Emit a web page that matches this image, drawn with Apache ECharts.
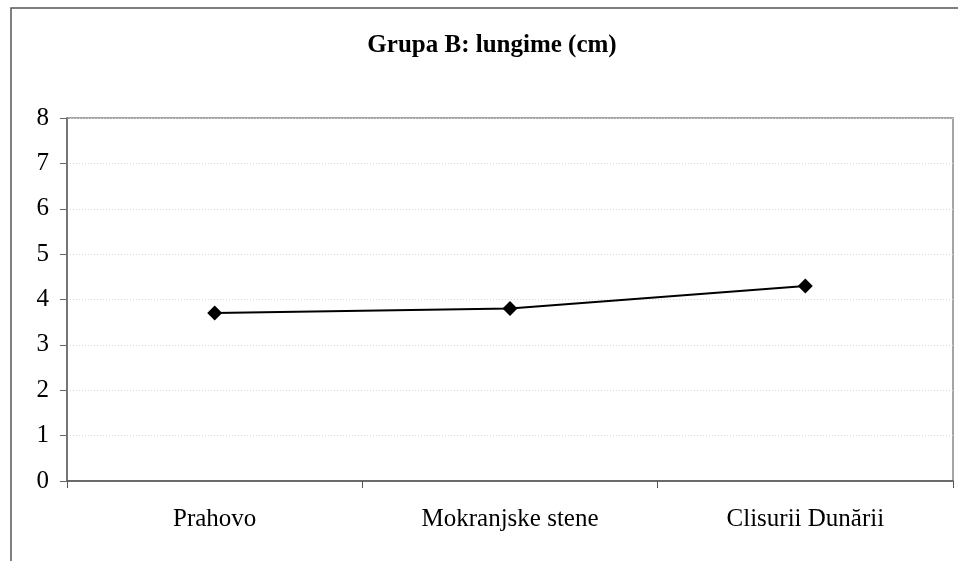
<!DOCTYPE html>
<html>
<head>
<meta charset="utf-8">
<script src="https://cdn.jsdelivr.net/npm/echarts@6/dist/echarts.min.js"></script>
<style>
  html, body { margin: 0; padding: 0; background: #fff; }
  #chart { width: 958px; height: 561px; }
</style>
</head>
<body>
<div id="chart"></div>
<script>
// date
const categories = ['Prahovo', 'Mokranjske stene', 'Clisurii Dunării']
const lengths = [3.7, 3.8, 4.3]
const yTicks = [0, 8, 1] // min, max, interval

const serif = '"Liberation Serif", "DejaVu Serif", serif'

const chart = echarts.init(document.getElementById('chart'))

chart.setOption({
  animation: false,
  backgroundColor: '#fff',
  title: {
    text: 'Grupa B: lungime (cm)',
    left: 492,
    top: 33,
    padding: 0,
    textAlign: 'center',
    textStyle: {
      fontFamily: serif,
      fontWeight: 'bold',
      fontSize: 25,
      color: '#000'
    }
  },
  // chenarul exterior
  graphic: [{
    type: 'rect',
    shape: { x: 11, y: 8, width: 1000, height: 700 },
    style: { fill: 'none', stroke: '#555', lineWidth: 1.5 },
    silent: true
  }],
  grid: {
    left: 67,
    right: 5,
    top: 118,
    bottom: 80,
    show: true,
    borderColor: '#888',
    borderWidth: 1.5,
    containLabel: false
  },
  xAxis: {
    type: 'category',
    data: categories,
    boundaryGap: true,
    axisLine: { lineStyle: { color: '#555', width: 1.5 } },
    axisTick: { show: true, length: 7, inside: false, lineStyle: { color: '#555' } },
    axisLabel: {
      margin: 26,
      fontFamily: serif,
      fontSize: 25,
      color: '#000'
    }
  },
  yAxis: {
    type: 'value',
    min: yTicks[0],
    max: yTicks[1],
    interval: yTicks[2],
    axisLine: { show: true, lineStyle: { color: '#666', width: 1.5 } },
    axisTick: { show: true, length: 7, lineStyle: { color: '#666' } },
    axisLabel: {
      margin: 18,
      fontFamily: serif,
      fontSize: 25,
      color: '#000'
    },
    splitLine: {
      show: true,
      lineStyle: { color: '#d8d8d8', type: [1, 2], width: 1 }
    }
  },
  series: [{
    name: 'lungime',
    type: 'line',
    data: lengths,
    symbol: 'diamond',
    symbolSize: 15,
    itemStyle: { color: '#000' },
    lineStyle: { color: '#000', width: 2 }
  }]
})
</script>
</body>
</html>
